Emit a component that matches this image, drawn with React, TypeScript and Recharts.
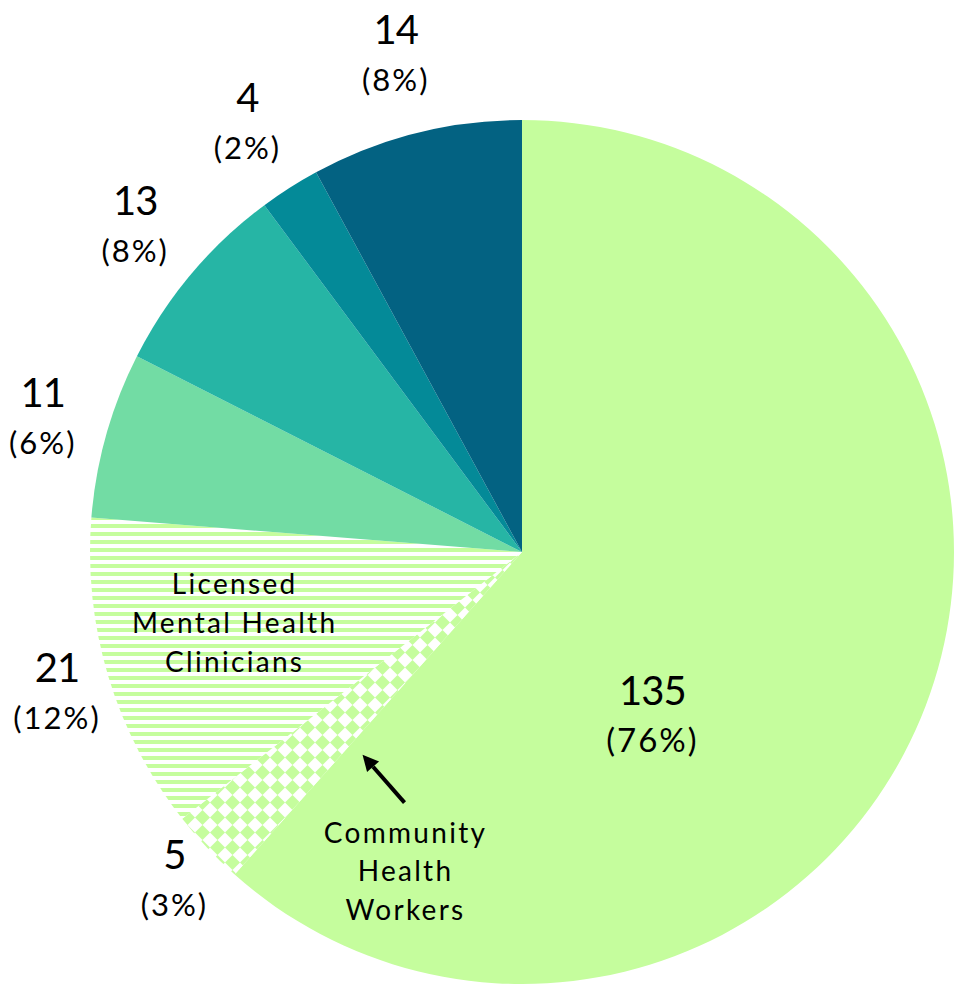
import React from "react";
import { PieChart, Pie, Cell } from "recharts";

const categories = [
  "Other Staff",
  "Community Health Workers",
  "Licensed Mental Health Clinicians",
  "Staff Group A",
  "Staff Group B",
  "Staff Group C",
  "Staff Group D",
];
const sliceValues = [109, 5, 21, 11, 13, 4, 14];
const displayValues = [135, 5, 21, 11, 13, 4, 14];
const percentLabels = ["(76%)", "(3%)", "(12%)", "(6%)", "(8%)", "(2%)", "(8%)"];
const annotationLines: string[][] = [
  [],
  ["Community", "Health", "Workers"],
  ["Licensed", "Mental Health", "Clinicians"],
  [],
  [],
  [],
  [],
];
const groupedCount = 3; // the first three slices together make the 135 group

const GREEN = "#C5FD9D";
const COLORS = [GREEN, "url(#checker)", "url(#stripes)", "#72DCA4", "#26B5A5", "#048A98", "#036282"];

const data = categories.map((name, i) => ({ name, value: sliceValues[i] }));

const RAD = Math.PI / 180;
const FONT = "Lato, 'Noto Sans', sans-serif";
const START = 90;
const END = -270;

const polar = (cx: number, cy: number, r: number, a: number) => ({
  x: cx + r * Math.cos(-a * RAD),
  y: cy + r * Math.sin(-a * RAD),
});

const total = sliceValues.reduce((a, b) => a + b, 0);
const cumBefore = (i: number) => sliceValues.slice(0, i).reduce((a, b) => a + b, 0);

function ValueGroup({ x, y, value, pct, pctSize }: any) {
  return (
    <g>
      <text x={x} y={y - 10} textAnchor="middle" fontFamily={FONT} fontSize={40} letterSpacing={-1} fill="#000">
        {value}
      </text>
      <text x={x} y={y + 37} textAnchor="middle" fontFamily={FONT} fontSize={pctSize} letterSpacing={2} fill="#000">
        {pct}
      </text>
    </g>
  );
}

function renderLabel(props: any) {
  const { cx, cy, outerRadius, index } = props;
  const R = Number(outerRadius);
  const midAngle = START - ((cumBefore(index) + sliceValues[index] / 2) / total) * 360;

  if (index === 0) {
    const span = (cumBefore(groupedCount) / total) * 360;
    const a = START - span * 0.515;
    const p = polar(cx, cy, R * 0.484, a);
    return <ValueGroup key="l0" x={p.x} y={p.y} value={displayValues[0]} pct={percentLabels[0]} pctSize={33} />;
  }

  const off = 60 + 22 * Math.sin(midAngle * RAD);
  const p = polar(cx, cy, R + off, midAngle);
  const parts: any[] = [
    <ValueGroup key="v" x={p.x} y={p.y} value={displayValues[index]} pct={percentLabels[index]} pctSize={31} />,
  ];

  const lines = annotationLines[index];
  if (lines.length && index === 2) {
    const q = polar(cx, cy, R * 0.685, midAngle);
    lines.forEach((ln, k) => {
      parts.push(
        <text
          key={"a" + k}
          x={q.x - 4}
          y={q.y - 43 + k * 39}
          textAnchor="middle"
          fontFamily={FONT}
          fontSize={28}
          letterSpacing={2.3}
          fill="#000"
        >
          {ln}
        </text>
      );
    });
  }
  if (lines.length && index === 1) {
    const sliceStart = START - (cumBefore(index) / total) * 360;
    const tip = polar(cx, cy, R * 0.597, sliceStart + 3.5);
    const tail = { x: tip.x + 42, y: tip.y + 48 };
    const len = Math.hypot(tail.x - tip.x, tail.y - tip.y);
    const ux = (tip.x - tail.x) / len;
    const uy = (tip.y - tail.y) / len;
    const base = { x: tip.x - ux * 16, y: tip.y - uy * 16 };
    const px = -uy;
    const py = ux;
    parts.push(
      <line key="al" x1={tail.x} y1={tail.y} x2={base.x} y2={base.y} stroke="#000" strokeWidth={4} />,
      <polygon
        key="ah"
        points={`${tip.x},${tip.y} ${base.x + px * 8},${base.y + py * 8} ${base.x - px * 8},${base.y - py * 8}`}
        fill="#000"
      />
    );
    lines.forEach((ln, k) => {
      parts.push(
        <text
          key={"c" + k}
          x={tip.x + 43}
          y={tip.y + 88 + k * 38.5}
          textAnchor="middle"
          fontFamily={FONT}
          fontSize={28}
          letterSpacing={2.3}
          fill="#000"
        >
          {ln}
        </text>
      );
    });
  }
  return <g key={"l" + index}>{parts}</g>;
}

export default function App() {
  return (
    <div style={{ position: "absolute", left: 0, top: 0, width: 955, height: 988, background: "#fff" }}>
      <PieChart width={955} height={988} margin={{ top: 0, right: 0, bottom: 0, left: 0 }}>
        <defs>
          <pattern id="stripes" width="8" height="8" patternUnits="userSpaceOnUse">
            <rect width="8" height="8" fill="#fff" />
            <rect y="4" width="8" height="4" fill={GREEN} />
          </pattern>
          <pattern id="checker" width="15" height="15" patternUnits="userSpaceOnUse">
            <rect width="15" height="15" fill="#fff" />
            <polygon points="7.5,0 15,7.5 7.5,15 0,7.5" fill={GREEN} />
          </pattern>
        </defs>
        <Pie
          data={data}
          dataKey="value"
          nameKey="name"
          cx={522}
          cy={552}
          outerRadius={432}
          startAngle={START}
          endAngle={END}
          stroke="none"
          labelLine={false}
          label={renderLabel}
          isAnimationActive={false}
        >
          {data.map((d, i) => (
            <Cell key={d.name} fill={COLORS[i]} stroke="none" />
          ))}
        </Pie>
      </PieChart>
    </div>
  );
}
